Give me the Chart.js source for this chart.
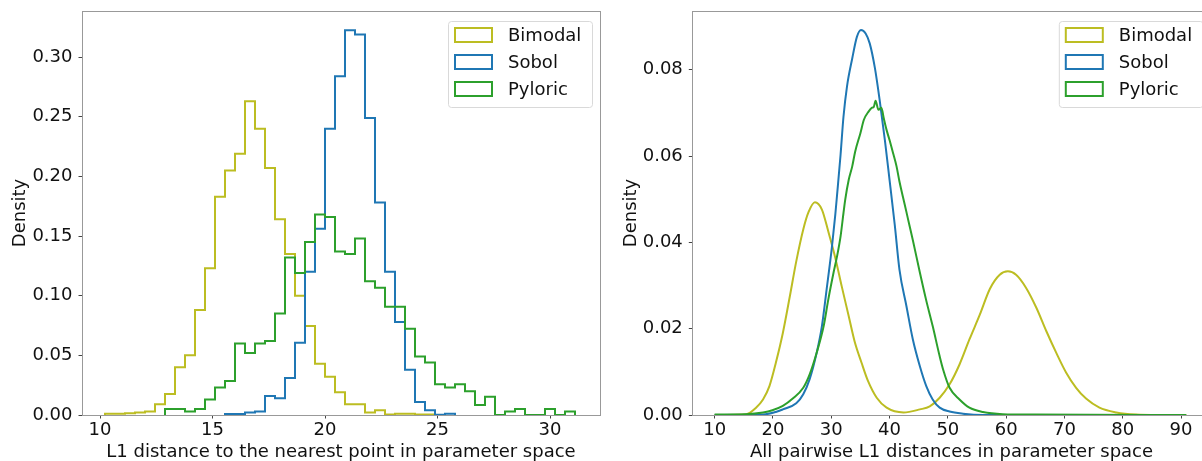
<!DOCTYPE html>
<html>
<head>
<meta charset="utf-8">
<script src="https://cdn.jsdelivr.net/npm/chart.js@4.4.1/dist/chart.umd.min.js"></script>
<style>
  html, body { margin: 0; padding: 0; background: #fff; overflow: hidden; }
  #wrap { position: relative; width: 1202px; height: 461px; }
  canvas { position: absolute; top: 0; }
  #nearestChart { left: 0; }
  #pairwiseChart { left: 606px; }
</style>
</head>
<body>
<div id="wrap">
  <canvas id="nearestChart" width="606" height="461"></canvas>
  <canvas id="pairwiseChart" width="610" height="461"></canvas>
</div>
<script>
// nearest-neighbour histograms share one bin grid
const binStart = 10.222;
const binWidth = 0.4444;

const bimodalNearestFirstBin = 0;
const bimodalNearest = [0.001, 0.001, 0.0015, 0.002, 0.003, 0.009, 0.0176, 0.040, 0.050, 0.088,
  0.123, 0.183, 0.205, 0.219, 0.263, 0.240, 0.207, 0.164, 0.135, 0.100,
  0.0745, 0.043, 0.032, 0.019, 0.009, 0.009, 0.002, 0.004, 0.0005, 0.001,
  0.001, 0.0005, 0.0005];

const sobolNearestFirstBin = 12;
const sobolNearest = [0.0008, 0.0008, 0.002, 0.003, 0.016, 0.014, 0.031, 0.0606, 0.120, 0.156,
  0.240, 0.284, 0.3225, 0.319, 0.249, 0.178, 0.120, 0.078, 0.038, 0.011,
  0.004, 0.0003, 0.001];

const pyloricNearestFirstBin = 6;
const pyloricNearest = [0.005, 0.005, 0.003, 0.005, 0.013, 0.023, 0.0285, 0.060, 0.052, 0.060,
  0.062, 0.085, 0.132, 0.119, 0.145, 0.168, 0.166, 0.137, 0.135, 0.148,
  0.112, 0.1066, 0.0907, 0.0907, 0.0723, 0.049, 0.044, 0.0257, 0.023, 0.0257,
  0.020, 0.0084, 0.0153, 0, 0.003, 0.005, 0, 0, 0.005, 0, 0.003];

// pairwise distance densities (fine bins, sampled along the curve)
const bimodalPairX = [10, 15.4, 17.1, 18.3, 19.4, 20.5, 21.7, 22.9, 24.0, 25.2, 26.1, 27.2, 28.4, 29.5,
  30.7, 31.8, 33.0, 34.0, 35.2, 36.3, 37.8, 39.5, 42.4, 45.2, 46.9, 48.6, 50.3, 52.0, 53.7,
  55.5, 57.2, 58.9, 60.3, 61.7, 63.4, 65.2, 66.9, 68.6, 70.3, 72.0, 73.7, 76.0, 78.9, 82.3, 86, 90.9];
const bimodalPairY = [0, 0.0002, 0.0017, 0.0036, 0.0067, 0.0121, 0.019, 0.0275, 0.0356, 0.043, 0.047, 0.0493, 0.0476, 0.0425,
  0.0364, 0.0298, 0.0229, 0.0171, 0.0121, 0.0079, 0.0040, 0.0017, 0.0006, 0.0013, 0.002, 0.004, 0.0071, 0.0117, 0.0175,
  0.0233, 0.0292, 0.0325, 0.0333, 0.0325, 0.0295, 0.0248, 0.0194, 0.0144, 0.0098, 0.0063, 0.0038, 0.0017, 0.0006, 0.0001, 0, 0];

const sobolPairX = [10, 18.3, 20.5, 21.7, 24.0, 25.2, 26.3, 27.5, 28.4, 29.2, 30.1, 30.7, 31.0, 31.6, 32.1, 32.7,
  33.6, 34.4, 35.1, 35.9, 36.6, 37.5, 38.3, 39.2, 40.0, 40.9, 41.7, 42.9, 44.0, 45.2, 46.3, 47.4, 48.6,
  50.3, 52.6, 56, 65];
const sobolPairY = [0, 0.0001, 0.0007, 0.0013, 0.0027, 0.0048, 0.0083, 0.0144, 0.0206, 0.029, 0.0387, 0.0465, 0.051, 0.0603, 0.0691, 0.0761,
  0.0826, 0.0876, 0.0892, 0.0884, 0.0861, 0.0803, 0.073, 0.0637, 0.0545, 0.044, 0.0337, 0.0252, 0.0175, 0.0113, 0.0067, 0.0036, 0.0017,
  0.0008, 0.0003, 0, 0];

const pyloricPairX = [10, 15.4, 18.3, 19.9, 21.7, 23.4, 25.2, 26.3, 27.5, 28.7, 29.5, 30.4, 31.0, 31.6, 32.1, 32.4,
  33.0, 33.6, 34.1, 35.0, 35.6, 36.4, 37.0, 37.3, 37.6, 38.1, 38.6, 39.0, 39.5, 40.0, 40.6, 41.2, 41.7,
  42.3, 42.9, 43.4, 44.0, 45.2, 46.3, 47.4, 48.6, 49.2, 50.3, 52.0, 53.7, 56.0, 59.4, 65, 90.9];
const pyloricPairY = [0.0001, 0.0002, 0.0006, 0.0011, 0.0021, 0.0038, 0.0063, 0.0094, 0.0144, 0.0206, 0.0268, 0.033, 0.0368, 0.0414, 0.0468, 0.0499,
  0.0545, 0.0576, 0.061, 0.0653, 0.0684, 0.0703, 0.0712, 0.0714, 0.0728, 0.0707, 0.0712, 0.0688, 0.066, 0.0637, 0.0607, 0.0576, 0.0541,
  0.0505, 0.047, 0.044, 0.0405, 0.033, 0.0265, 0.0206, 0.0136, 0.0105, 0.0063, 0.0036, 0.0017, 0.0007, 0.0002, 0.0001, 0];

const seriesLabels = ['Bimodal', 'Sobol', 'Pyloric'];
const seriesColors = ['#bcbd22', '#1f77b4', '#2ca02c'];

const nearestXTicks = [10, 15, 20, 25, 30];
const nearestYTicks = [0, 0.05, 0.10, 0.15, 0.20, 0.25, 0.30];
const pairXTicks = [10, 20, 30, 40, 50, 60, 70, 80, 90];
const pairYTicks = [0, 0.02, 0.04, 0.06, 0.08];

Chart.defaults.font.family = "'DejaVu Sans', sans-serif";
Chart.defaults.font.size = 18;
Chart.defaults.color = '#111';

// outline of a step histogram: up at the first edge, across each bin, down at the last edge
function stepOutline(values, firstBin) {
  const edge = k => binStart + k * binWidth;
  const pts = [{ x: edge(firstBin), y: 0 }];
  values.forEach((v, i) => pts.push({ x: edge(firstBin + i), y: v }));
  pts.push({ x: edge(firstBin + values.length), y: 0 });
  return pts;
}

function zipPoints(xs, ys) {
  return xs.map((x, i) => ({ x: x, y: ys[i] }));
}

// matplotlib-like box around the plot area
const frame = {
  id: 'frame',
  afterDatasetsDraw(chart) {
    const { ctx, chartArea: a } = chart;
    ctx.save();
    ctx.strokeStyle = '#999';
    ctx.lineWidth = 1;
    ctx.strokeRect(Math.round(a.left) + 0.5, Math.round(a.top) + 0.5,
      Math.round(a.right - a.left), Math.round(a.bottom - a.top));
    ctx.restore();
  }
};

// legend box in the upper right corner with outlined patches
const boxLegend = {
  id: 'boxLegend',
  afterDraw(chart) {
    const { ctx, chartArea: a } = chart;
    const w = 144, h = 86;
    const left = a.right - 8 - w, top = a.top + 10;
    ctx.save();
    ctx.beginPath();
    ctx.roundRect(left + 0.5, top + 0.5, w, h, 3);
    ctx.fillStyle = 'rgba(255,255,255,0.8)';
    ctx.fill();
    ctx.strokeStyle = '#d9d9d9';
    ctx.lineWidth = 1;
    ctx.stroke();
    ctx.font = "18px 'DejaVu Sans'";
    ctx.textBaseline = 'middle';
    ctx.textAlign = 'left';
    seriesLabels.forEach((label, i) => {
      const cy = top + 14 + i * 27;
      ctx.strokeStyle = seriesColors[i];
      ctx.lineWidth = 2;
      ctx.strokeRect(left + 7, cy - 7, 37, 14);
      ctx.fillStyle = '#111';
      ctx.fillText(label, left + 60, cy + 1);
    });
    ctx.restore();
  }
};

function axes(xTicks, yTicks, xMin, xMax, yMax, xTitle, yAxisWidth, yTitlePad) {
  const tickGrid = { drawOnChartArea: false, drawTicks: true, tickLength: 3.5, tickColor: '#444', tickWidth: 1 };
  return {
    x: {
      type: 'linear', min: xMin, max: xMax,
      afterBuildTicks: s => { s.ticks = xTicks.map(v => ({ value: v })); },
      afterFit: s => { s.height = 46; s.paddingLeft = 0; s.paddingRight = 0; },
      grid: tickGrid,
      border: { display: false },
      ticks: { padding: 1, maxRotation: 0, autoSkip: false, callback: v => String(v) },
      title: { display: true, text: xTitle, font: { size: 18, lineHeight: 1 }, padding: { top: 0, bottom: 0 } }
    },
    y: {
      type: 'linear', min: 0, max: yMax,
      afterBuildTicks: s => { s.ticks = yTicks.map(v => ({ value: v })); },
      afterFit: s => { s.width = yAxisWidth; s.paddingTop = 0; s.paddingBottom = 0; },
      grid: tickGrid,
      border: { display: false },
      ticks: { padding: 6, autoSkip: false, callback: v => v.toFixed(2) },
      title: { display: true, text: 'Density', font: { size: 18, lineHeight: 1 }, padding: { top: yTitlePad, bottom: 0 } }
    }
  };
}

function lineSet(i, data, stepped) {
  return {
    label: seriesLabels[i],
    data: data,
    borderColor: seriesColors[i],
    borderWidth: 2,
    pointRadius: 0,
    fill: false,
    stepped: stepped,
    cubicInterpolationMode: stepped ? 'default' : 'monotone',
    order: 2 - i
  };
}

const baseOptions = {
  responsive: false,
  animation: false,
  events: [],
  plugins: { legend: { display: false }, tooltip: { enabled: false } }
};

new Chart(document.getElementById('nearestChart'), {
  type: 'line',
  data: {
    datasets: [
      lineSet(0, stepOutline(bimodalNearest, bimodalNearestFirstBin), true),
      lineSet(1, stepOutline(sobolNearest, sobolNearestFirstBin), true),
      lineSet(2, stepOutline(pyloricNearest, pyloricNearestFirstBin), true)
    ]
  },
  options: Object.assign({}, baseOptions, {
    layout: { padding: { top: 11, right: 6, left: 0, bottom: 0 } },
    scales: axes(nearestXTicks, nearestYTicks, 9.2, 32.22, 0.3386,
      'L1 distance to the nearest point in parameter space', 82, 11.7)
  }),
  plugins: [frame, boxLegend]
});

new Chart(document.getElementById('pairwiseChart'), {
  type: 'line',
  data: {
    datasets: [
      lineSet(0, zipPoints(bimodalPairX, bimodalPairY), false),
      lineSet(1, zipPoints(sobolPairX, sobolPairY), false),
      lineSet(2, zipPoints(pyloricPairX, pyloricPairY), false)
    ]
  },
  options: Object.assign({}, baseOptions, {
    layout: { padding: { top: 11, right: 5.2, left: 0, bottom: 0 } },
    scales: axes(pairXTicks, pairYTicks, 6.17, 95.1, 0.0936,
      'All pairwise L1 distances in parameter space', 86.3, 16.7)
  }),
  plugins: [frame, boxLegend]
});
</script>
</body>
</html>
